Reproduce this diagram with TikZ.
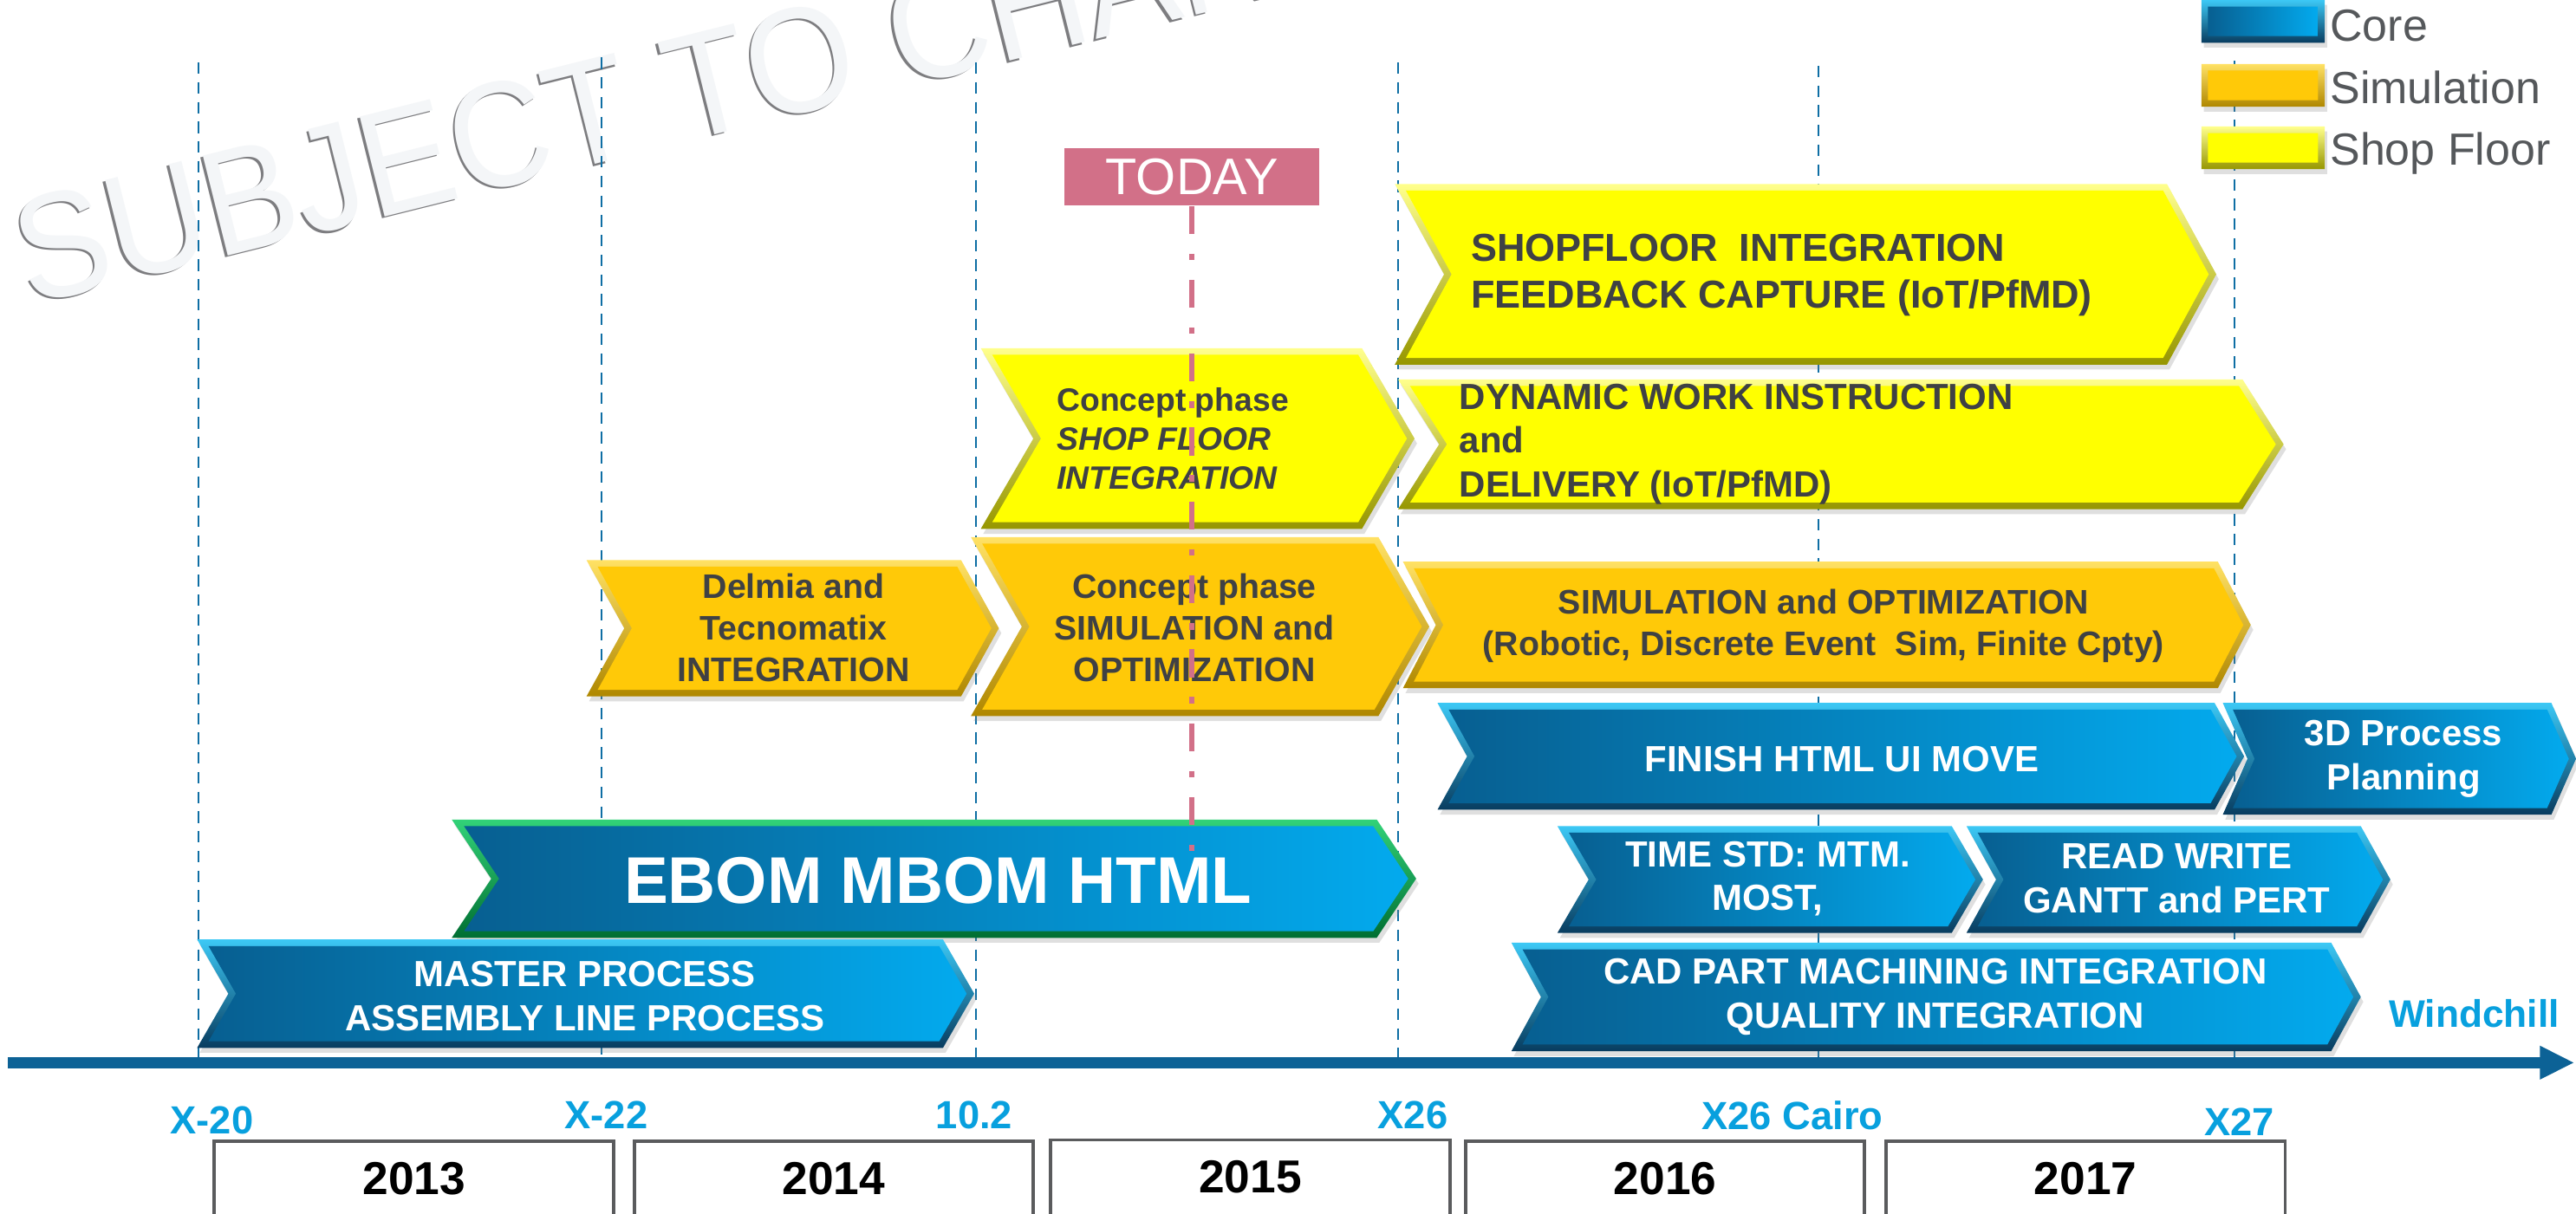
\documentclass[tikz,border=0pt]{standalone}
\usepackage{fontspec}
\setmainfont{Liberation Sans}
\usetikzlibrary{arrows.meta, positioning, shadows}

\definecolor{coreDark}{RGB}{7,95,145}
\definecolor{coreLight}{RGB}{3,170,238}
\definecolor{coreRimTop}{RGB}{60,200,245}
\definecolor{coreRimBot}{RGB}{8,60,95}
\definecolor{simFace}{RGB}{255,201,8}
\definecolor{simRimTop}{RGB}{255,225,100}
\definecolor{simRimBot}{RGB}{175,135,0}
\definecolor{shopFace}{RGB}{255,255,0}
\definecolor{shopRimTop}{RGB}{255,255,140}
\definecolor{shopRimBot}{RGB}{150,150,0}
\definecolor{ebomRimTop}{RGB}{50,210,120}
\definecolor{ebomRimBot}{RGB}{0,110,50}
\definecolor{darkText}{RGB}{63,65,68}
\definecolor{gridBlue}{RGB}{14,110,164}
\definecolor{axisBlue}{RGB}{12,98,150}
\definecolor{labelBlue}{RGB}{8,160,222}
\definecolor{todayPink}{RGB}{210,112,136}
\definecolor{yearGray}{RGB}{90,91,93}
\definecolor{legendGray}{RGB}{85,88,91}
\definecolor{wmFace}{RGB}{244,246,248}
\definecolor{wmShade}{RGB}{125,125,128}

% bevel width of the bars
\newcommand{\chvbev}{4}
% bar: rim style, face style, left x, right x, top y, bottom y, point depth
\newcommand{\chevronbar}[7]{%
  \pgfmathsetmacro{\chvym}{(#5+#6)/2}%
  \pgfmathsetmacro{\chvhh}{(#6-#5)/2}%
  \pgfmathsetmacro{\chvbk}{\chvbev*sqrt((#7)^2+\chvhh^2)/\chvhh}%
  \pgfmathsetmacro{\chvbs}{\chvbev*(#7)/\chvhh}%
  \path[#1] (#3,#5) -- ({#4-#7},#5) -- (#4,\chvym) -- ({#4-#7},#6) -- (#3,#6) -- ({#3+#7},\chvym) -- cycle;
  \path[#2] ({#3+\chvbk+\chvbs},{#5+\chvbev}) -- ({#4-#7-\chvbk+\chvbs},{#5+\chvbev}) -- ({#4-\chvbk},\chvym)
    -- ({#4-#7-\chvbk+\chvbs},{#6-\chvbev}) -- ({#3+\chvbk+\chvbs},{#6-\chvbev}) -- ({#3+#7+\chvbk},\chvym) -- cycle;
}

\tikzset{%
% Specifications for style of bars:
barShadow/.style = {drop shadow={opacity=0.25, shadow xshift=0.3mm, shadow yshift=-0.6mm}},
coreRim/.style = {barShadow, top color=coreRimTop, bottom color=coreRimBot},
coreFace/.style = {left color=coreDark, right color=coreLight},
simRim/.style = {barShadow, top color=simRimTop, bottom color=simRimBot},
simFill/.style = {fill=simFace},
shopRim/.style = {barShadow, top color=shopRimTop, bottom color=shopRimBot},
shopFill/.style = {fill=shopFace},
ebomRim/.style = {barShadow, top color=ebomRimTop, bottom color=ebomRimBot},
% Specifications for style of texts:
coreText/.style = {text=white, font=\bfseries\fontsize{12.6}{15.2}\selectfont},
ebomText/.style = {text=white, font=\bfseries\fontsize{22.9}{27}\selectfont},
simText/.style = {text=darkText, font=\bfseries\fontsize{11.8}{14.4}\selectfont},
shopText/.style = {text=darkText, font=\bfseries\fontsize{12.6}{15.2}\selectfont, align=left, anchor=west},
legendText/.style = {text=legendGray, font=\fontsize{15.6}{18}\selectfont, anchor=base west},
msLabel/.style = {text=labelBlue, font=\bfseries\fontsize{13.6}{16}\selectfont},
yearBox/.style = {draw=yearGray, line width=0.4mm, minimum width=48.6mm, minimum height=12mm, anchor=north,
                  font=\bfseries\fontsize{16}{19}\selectfont, text height=4.1mm, text depth=3.2mm},
todayBox/.style = {fill=todayPink, text=white, font=\fontsize{17.8}{21}\selectfont, minimum width=31mm, minimum height=7mm},
stamp/.style = {font=\fontsize{48}{50}\selectfont, rotate=14, yscale=1.08, anchor=base west},
releaseLine/.style = {draw=gridBlue, line width=0.2mm, dash pattern=on 1.4mm off 1mm},
timeAxis/.style = {draw=axisBlue, line width=1.4mm, -{Triangle[length=4.2mm, width=3.8mm]}},
todayLine/.style = {draw=todayPink, line width=0.7mm, dash pattern=on 3.4mm off 2.4mm on 0.8mm off 2.4mm},
}

\begin{document}
\begin{tikzpicture}[
            x=0.2mm, y=-0.2mm,
            every node/.style={inner sep=0pt},
            align=center
        ]
        \useasboundingbox (0,0) rectangle (1568,739);
        \clip (0,0) rectangle (1568,739);
        \fill [white] (0,0) rectangle (1568,739);

        % Watermark
        \node (stampShade) [stamp, text=wmShade] at (16.6,187.2) {SUBJECT TO CHANGE};
        \node (stamp) [stamp, text=wmFace] at (18,186) {SUBJECT TO CHANGE};

        % Time axis and release lines
        \coordinate (axisStart) at (5,647);
        \coordinate (axisEnd) at (1567,647);
        \coordinate (rel20) at (121,38);
        \coordinate (rel22) at (366,35);
        \coordinate (rel102) at (594,38);
        \coordinate (rel26) at (851,38);
        \coordinate (relCairo) at (1107,40);
        \coordinate (rel27) at (1360,37);
        \draw [releaseLine] (rel20) -- (rel20 |- axisStart);
        \draw [releaseLine] (rel22) -- (rel22 |- axisStart);
        \draw [releaseLine] (rel102) -- (rel102 |- axisStart);
        \draw [releaseLine] (rel26) -- (rel26 |- axisStart);
        \draw [releaseLine] (relCairo) -- (relCairo |- axisStart);
        \draw [releaseLine] (rel27) -- (rel27 |- axisStart);
        \draw [timeAxis] (axisStart) -- (axisEnd);

        % Legend
        \chevronbar{coreRim}{coreFace}{1340}{1415}{0}{26}{0}
        \chevronbar{simRim}{simFill}{1340}{1415}{39}{65}{0}
        \chevronbar{shopRim}{shopFill}{1340}{1415}{77}{103}{0}
        \node (legCore) [legendText] at (1418,25) {Core};
        \node (legSim) [legendText] at (1418,63) {Simulation};
        \node (legShop) [legendText] at (1418,100.5) {Shop Floor};

        % Bars (position, etc.)
        \chevronbar{shopRim}{shopFill}{849}{1349}{112}{222}{30}
        \chevronbar{shopRim}{shopFill}{597}{861}{212}{322}{32}
        \chevronbar{shopRim}{shopFill}{851}{1390}{231}{310}{25}
        \chevronbar{simRim}{simFill}{357}{608}{341}{424}{23}
        \chevronbar{simRim}{simFill}{591}{870}{327}{436}{31}
        \chevronbar{simRim}{simFill}{854}{1370}{342}{419}{20}
        \chevronbar{coreRim}{coreFace}{875}{1366}{428}{493}{18}
        \chevronbar{coreRim}{coreFace}{1353}{1568}{428}{496}{15}
        \chevronbar{ebomRim}{coreFace}{275}{862}{499}{571}{24}
        \chevronbar{coreRim}{coreFace}{948}{1207}{503}{568}{19}
        \chevronbar{coreRim}{coreFace}{1197}{1455}{503}{568}{18}
        \chevronbar{coreRim}{coreFace}{120}{593}{572}{638}{19}
        \chevronbar{coreRim}{coreFace}{920}{1437}{574}{640}{18}

        % Texts of the bars
        \node (shopInt) [shopText, font=\bfseries\fontsize{13.5}{16.3}\selectfont] at (895,167.5) {SHOPFLOOR\ \ INTEGRATION\\FEEDBACK CAPTURE (IoT/PfMD)};
        \node (conceptShop) [shopText, font=\bfseries\fontsize{11.2}{13.5}\selectfont] at (643,267) {Concept phase\\\textit{SHOP FLOOR}\\\textit{INTEGRATION}};
        \node (dynWork) [shopText] at (888,270.5) {DYNAMIC WORK INSTRUCTION\\and\\DELIVERY (IoT/PfMD)};
        \node (delmia) [simText] at (483,382) {Delmia and\\Tecnomatix\\INTEGRATION};
        \node (conceptSim) [simText] at (727,382) {Concept phase\\SIMULATION and\\OPTIMIZATION};
        \node (simOpt) [simText] at (1110,381) {SIMULATION and OPTIMIZATION\\(Robotic, Discrete Event\ \ Sim, Finite Cpty)};
        \node (finish) [coreText] at (1121,462) {FINISH HTML UI MOVE};
        \node (threeD) [coreText] at (1463,462) {3D Process\\Planning};
        \node (ebom) [ebomText] at (571,536) {EBOM MBOM HTML};
        \node (timeStd) [coreText] at (1076,535) {TIME STD: MTM.\\MOST,};
        \node (readWrite) [coreText] at (1325,535) {READ WRITE\\GANTT and PERT};
        \node (master) [coreText] at (356,606.5) {MASTER PROCESS\\ASSEMBLY LINE PROCESS};
        \node (cadPart) [coreText] at (1178,607) {CAD PART MACHINING INTEGRATION\\QUALITY INTEGRATION};
        \node (windchill) [msLabel, font=\bfseries\fontsize{13.3}{16}\selectfont] at (1506,617) {Windchill};

        % Today marker
        \node (today) [todayBox] at (725.5,107.5) {TODAY};
        \coordinate (todayEnd) at (725.5,529);
        \draw [todayLine] (today.south) -- (todayEnd);

        % Release labels
        \node (lblX20) [msLabel] at (129,682) {X-20};
        \node (lblX22) [msLabel] at (369,679) {X-22};
        \node (lbl102) [msLabel] at (593,679) {10.2};
        \node (lblX26) [msLabel] at (860,679) {X26};
        \node (lblCairo) [msLabel] at (1091,679) {X26 Cairo};
        \node (lblX27) [msLabel] at (1363,683) {X27};

        % Years
        \node (y2013) [yearBox] at (252,694) {2013};
        \node (y2014) [yearBox] at (507.5,694) {2014};
        \node (y2015) [yearBox] at (761,693) {2015};
        \node (y2016) [yearBox] at (1013.5,694) {2016};
        \node (y2017) [yearBox] at (1269.5,694) {2017};
    \end{tikzpicture}
\end{document}
